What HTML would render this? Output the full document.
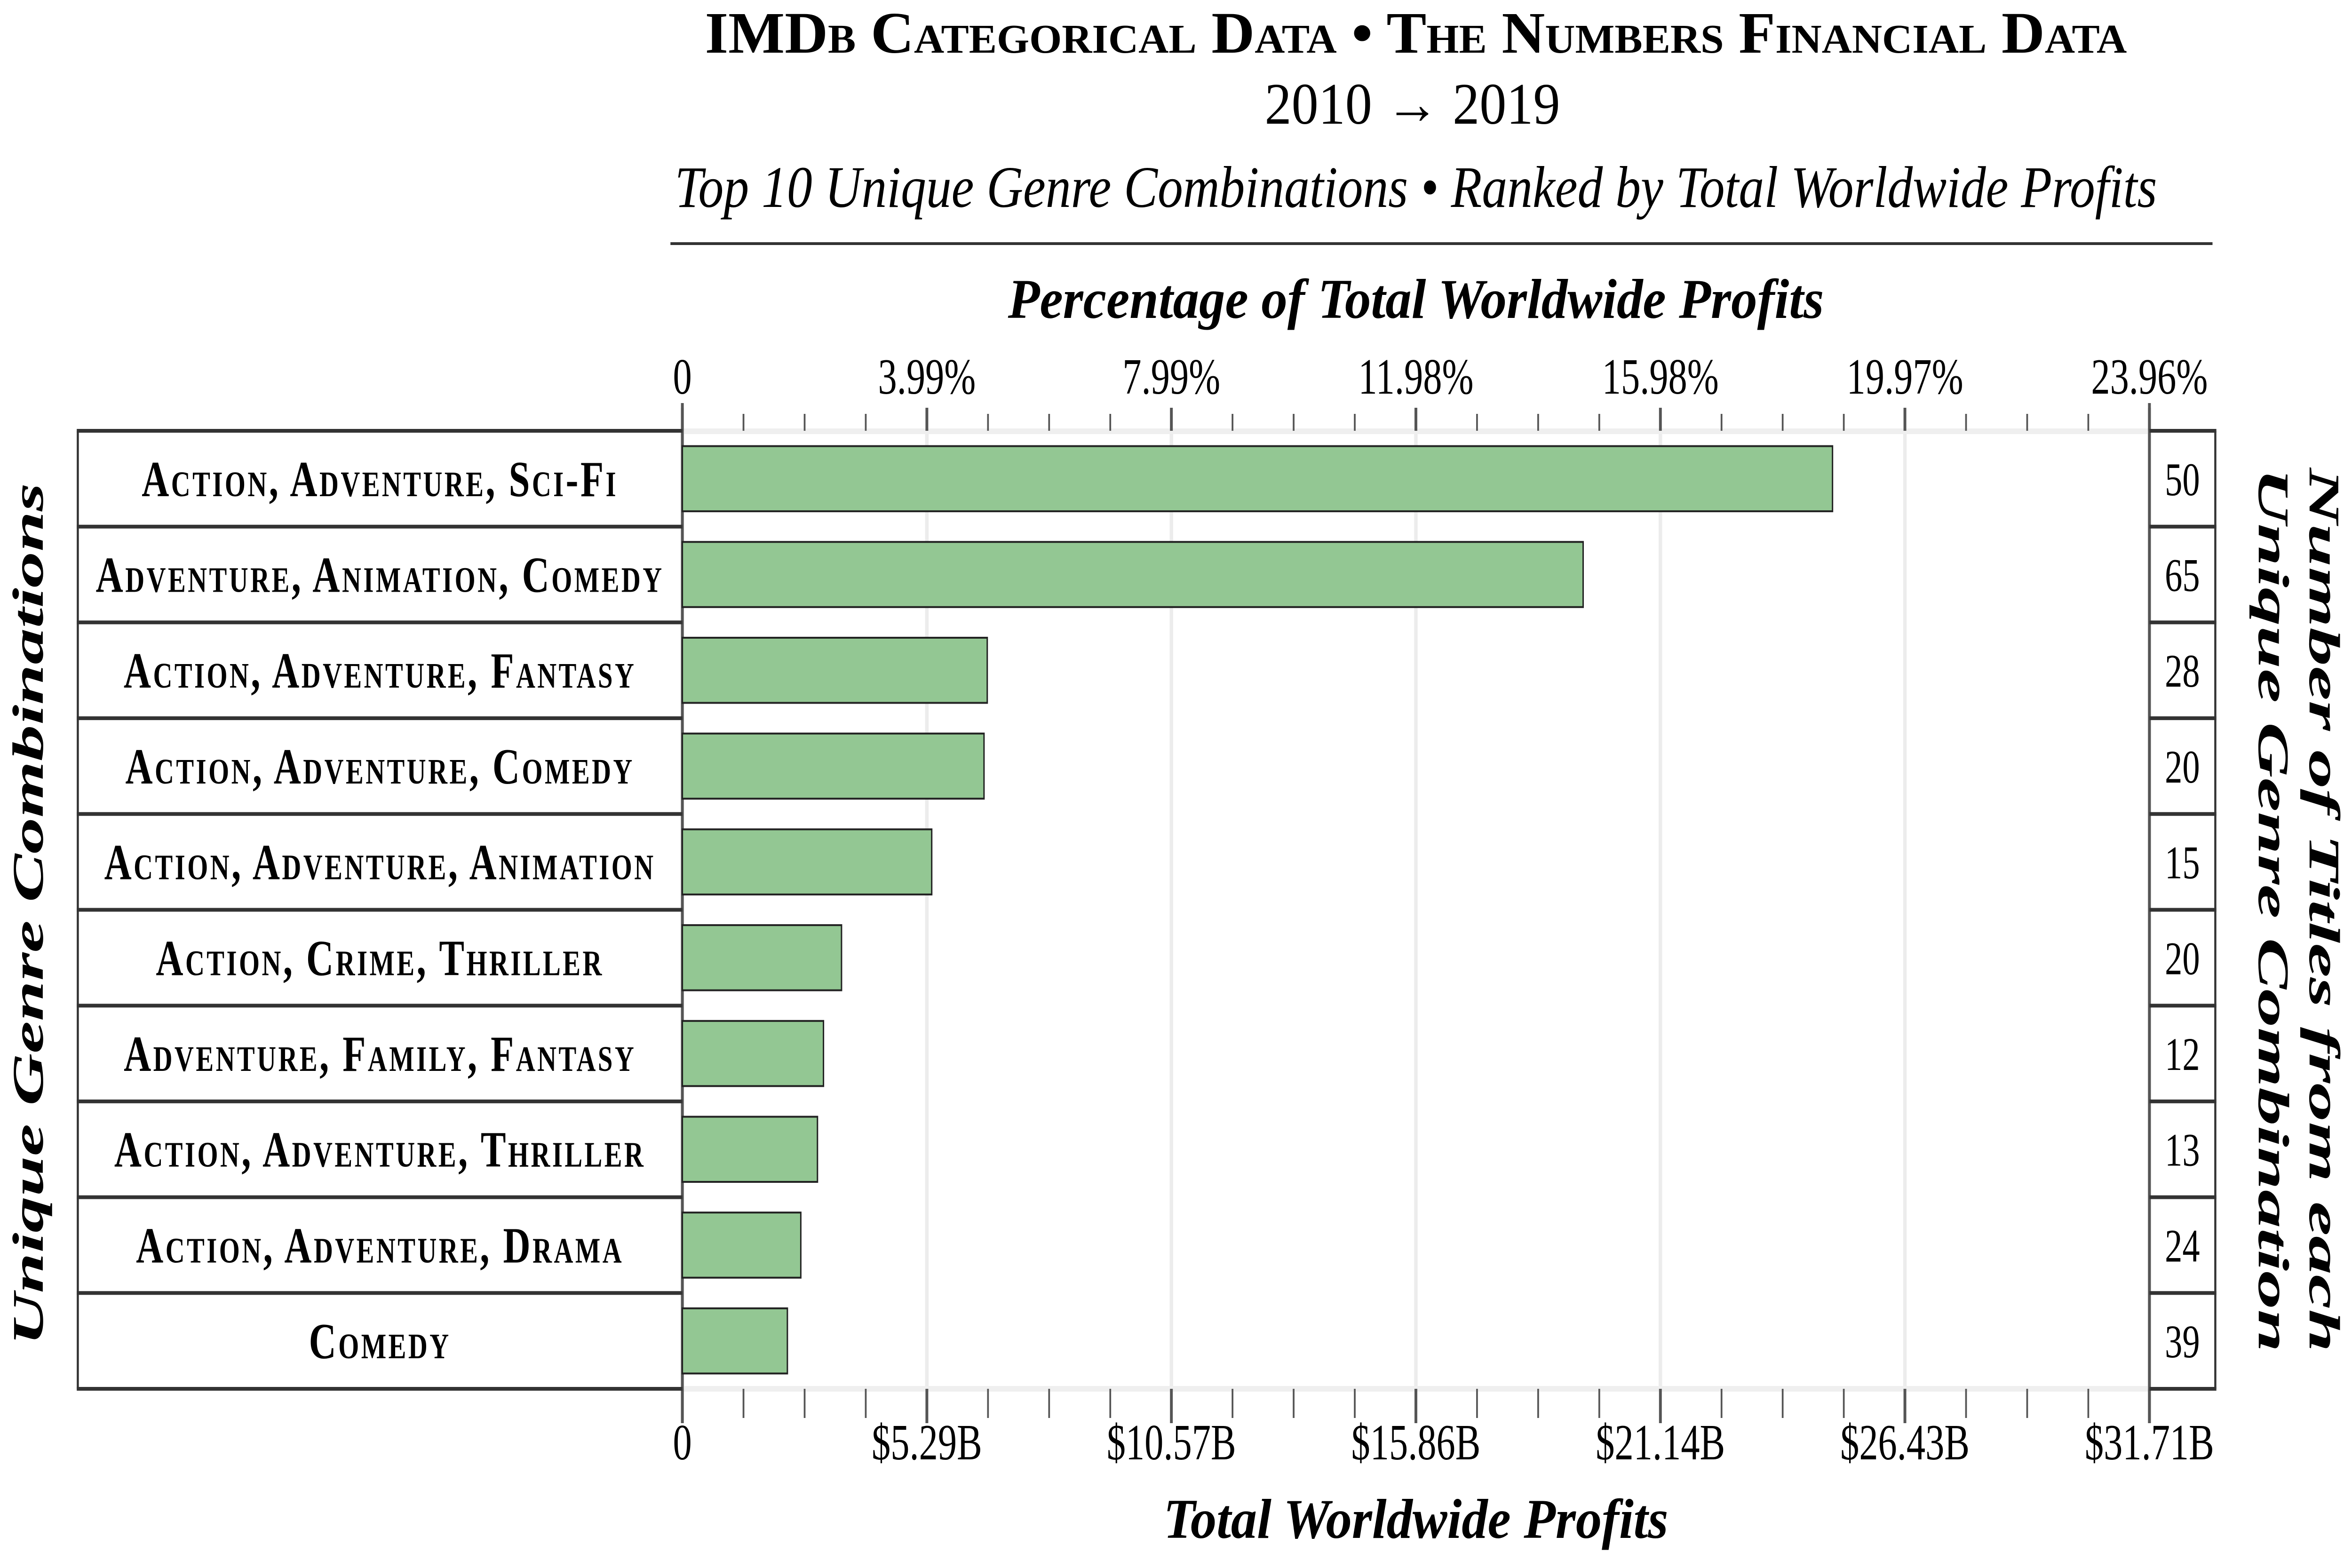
<!DOCTYPE html>
<html><head><meta charset="utf-8"><style>
html,body{margin:0;padding:0;background:#fff;overflow:hidden;width:100%;height:100%;}
svg{display:block;width:100vw;height:100vh;}
text{font-family:"Liberation Serif",serif;fill:#000;}
</style></head>
<body>
<svg id="chart" viewBox="0 0 6711 3334" preserveAspectRatio="none" xmlns="http://www.w3.org/2000/svg">
<text x="4040" y="112" text-anchor="middle" font-size="125" font-weight="bold" style="font-variant:small-caps" textLength="4057" lengthAdjust="spacingAndGlyphs">IMDb Categorical Data • The Numbers Financial Data</text>
<text x="4030" y="263" text-anchor="middle" font-size="125" textLength="843" lengthAdjust="spacingAndGlyphs">2010 → 2019</text>
<text x="4040" y="440" text-anchor="middle" font-size="125" font-style="italic" textLength="4229" lengthAdjust="spacingAndGlyphs">Top 10 Unique Genre Combinations • Ranked by Total Worldwide Profits</text>
<rect x="1913" y="515" width="4400" height="6" fill="#333"/>
<text x="4040" y="676" text-anchor="middle" font-size="120" font-weight="bold" font-style="italic" textLength="2328" lengthAdjust="spacingAndGlyphs">Percentage of Total Worldwide Profits</text>
<text x="4040" y="3270" text-anchor="middle" font-size="120" font-weight="bold" font-style="italic" textLength="1440" lengthAdjust="spacingAndGlyphs">Total Worldwide Profits</text>
<text transform="translate(122,1944) rotate(-90)" text-anchor="middle" font-size="125" font-weight="bold" font-style="italic" textLength="1834" lengthAdjust="spacingAndGlyphs">Unique Genre Combinations</text>
<text transform="translate(6590,1935) rotate(90)" text-anchor="middle" font-size="125" font-weight="bold" font-style="italic" textLength="1880" lengthAdjust="spacingAndGlyphs">Number of Titles from each</text>
<text transform="translate(6445,1935) rotate(90)" text-anchor="middle" font-size="125" font-weight="bold" font-style="italic" textLength="1880" lengthAdjust="spacingAndGlyphs">Unique Genre Combination</text>
<g id="plot"></g>
</svg>
<script>
const categories = ["Action, Adventure, Sci-Fi","Adventure, Animation, Comedy","Action, Adventure, Fantasy","Action, Adventure, Comedy","Action, Adventure, Animation","Action, Crime, Thriller","Adventure, Family, Fantasy","Action, Adventure, Thriller","Action, Adventure, Drama","Comedy"];
const profits = [24.86, 19.47, 6.59, 6.52, 5.39, 3.44, 3.05, 2.92, 2.56, 2.27];
const counts = [50, 65, 28, 20, 15, 20, 12, 13, 24, 39];
const bottomTicks = ["0","$5.29B","$10.57B","$15.86B","$21.14B","$26.43B","$31.71B"];
const topTicks = ["0","3.99%","7.99%","11.98%","15.98%","19.97%","23.96%"];
const xMax = 31.71;

const NS = "http://www.w3.org/2000/svg";
const g = document.getElementById("plot");
const X0 = 1947, X1 = 6133, TOP = 916, BOT = 2953;
const rowH = (BOT - TOP) / categories.length;
const x = v => X0 + (v / xMax) * (X1 - X0);
function mk(tag, attrs, parent) {
  const e = document.createElementNS(NS, tag);
  for (const k in attrs) e.setAttribute(k, attrs[k]);
  (parent || g).appendChild(e);
  return e;
}
const nMaj = bottomTicks.length - 1;
for (let i = 0; i <= nMaj; i++) {
  const xx = x(xMax * i / nMaj);
  const gl = mk("line", {x1: xx, x2: xx, y1: TOP, y2: BOT, stroke: "#ececec", "stroke-width": 10});
  
  
}
const sb1 = mk("rect", {x: X0, y: TOP - 5, width: X1 - X0, height: 12, fill: "#efefef"});


const sb2 = mk("rect", {x: X0, y: BOT - 6, width: X1 - X0, height: 12, fill: "#efefef"});


for (let i = 0; i <= nMaj * 4; i++) {
  const xx = x(xMax * i / (nMaj * 4));
  const major = i % 4 === 0;
  const t1 = mk("line", {x1: xx, x2: xx, y1: major ? 867 : 880, y2: TOP, stroke: "#555", "stroke-width": major ? 8 : 5});
  
  
  const t2 = mk("line", {x1: xx, x2: xx, y1: BOT, y2: major ? 3026 : 3015, stroke: "#555", "stroke-width": major ? 8 : 5});
  
  
}
for (let i = 0; i <= nMaj; i++) {
  const xx = x(xMax * i / nMaj);
  const tt = mk("text", {x: xx, y: 837, "text-anchor": "middle", "font-size": 108});
  tt.textContent = topTicks[i];
  
  
  const bt = mk("text", {x: xx, y: 3103, "text-anchor": "middle", "font-size": 108});
  bt.textContent = bottomTicks[i];
  
  
}
const al = mk("line", {x1: X0, x2: X0, y1: 857, y2: 3026, stroke: "#555", "stroke-width": 8});


const ar = mk("line", {x1: X1, x2: X1, y1: 857, y2: 3026, stroke: "#555", "stroke-width": 8});


const lb = mk("line", {x1: 222, x2: 222, y1: TOP, y2: BOT, stroke: "#333", "stroke-width": 6});


const rb = mk("line", {x1: 6321, x2: 6321, y1: TOP, y2: BOT, stroke: "#333", "stroke-width": 6});


for (let i = 0; i <= categories.length; i++) {
  const yy = TOP + i * rowH;
  const s1 = mk("line", {x1: 219, x2: X0, y1: yy, y2: yy, stroke: "#333", "stroke-width": 8});
  
  
  const s2 = mk("line", {x1: X1, x2: 6324, y1: yy, y2: yy, stroke: "#333", "stroke-width": 8});
  
  
}
categories.forEach((c, i) => {
  const cy = TOP + (i + 0.5) * rowH;
  const bh = rowH * 0.68;
  const b = mk("rect", {x: X0, y: cy - bh / 2, width: x(profits[i]) - X0, height: bh, fill: "#93c793", stroke: "#222", "stroke-width": 4});
  
  
  const t = mk("text", {x: 1084, y: cy + 37, "text-anchor": "middle", "font-size": 108, "font-weight": "bold", style: "font-variant:small-caps;letter-spacing:6px"});
  t.textContent = c;
  
  
  const n = mk("text", {x: 6227, y: cy + 35, "text-anchor": "middle", "font-size": 100});
  n.textContent = counts[i];
  
  
});
</script>
</body></html>
